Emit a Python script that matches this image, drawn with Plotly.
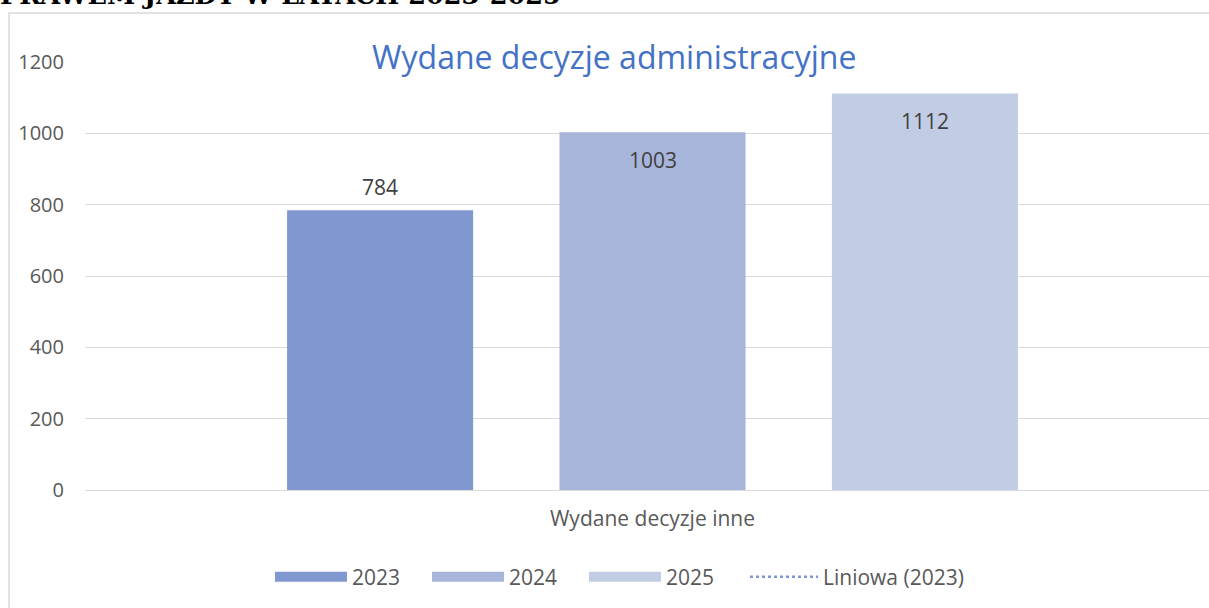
import plotly.graph_objects as go

categories = ["Wydane decyzje inne"]
years = ["2023", "2024", "2025"]
values_2023 = [784]
values_2024 = [1003]
values_2025 = [1112]
series_values = [values_2023, values_2024, values_2025]
bar_colors = ["#8097D0", "#A7B5DA", "#C2CCE4"]
label_inside = [False, True, True]
y_ticks = [0, 200, 400, 600, 800, 1000, 1200]
chart_title = "Wydane decyzje administracyjne"
trend_name = "Liniowa (2023)"
page_heading = "PRAWEM JAZDY W LATACH 2023-2025"

W, H = 1209, 608
ML, MR, MT, MB = 85, 0, 62, 118
BARGAP, BARGROUPGAP = 0.28, 0.317
XRANGE = [-0.5, 0.4903]

fig = go.Figure()
for name, vals, col in zip(years, series_values, bar_colors):
    fig.add_trace(go.Bar(x=categories, y=vals, name=name, marker_color=col,
                         marker_line_width=0, hoverinfo="skip",
                         legendgroup=name, showlegend=False))
    # legend entry drawn as a wide swatch (a single-point line draws nothing on the plot)
    fig.add_trace(go.Scatter(x=categories, y=vals, name=name, mode="lines",
                             line=dict(color=col, width=17), legendgroup=name,
                             hoverinfo="skip", legend="legend"))
fig.add_trace(go.Scatter(x=categories, y=values_2023, name=trend_name, mode="lines",
                         line=dict(color="#7F96D0", width=2.5, dash="dot"), legend="legend2"))

# value labels via annotations, offset to each bar slot
plot_w = W - ML - MR
cat_px = plot_w / (XRANGE[1] - XRANGE[0])
slot_px = cat_px * (1 - BARGAP) / len(years)
for i, (vals, inside) in enumerate(zip(series_values, label_inside)):
    for c, v in zip(categories, vals):
        fig.add_annotation(x=c, y=v, text=str(v), showarrow=False,
                           xshift=(i - 1) * slot_px, yshift=(-28 if inside else 23),
                           yanchor="middle", font=dict(family="Open Sans", size=21, color="#404040"))

plot_h = H - MT - MB
fig.add_annotation(xref="paper", yref="paper", x=(614 - ML) / plot_w, y=(H - MB - 57) / plot_h,
                   text=chart_title, showarrow=False, xanchor="center", yanchor="middle",
                   font=dict(family="Open Sans", size=32, color="#4472C4"))
fig.add_annotation(xref="paper", yref="paper", x=(-2 - ML) / plot_w, y=(H - MB - 12) / plot_h,
                   text="<b>" + page_heading + "</b>", showarrow=False, xanchor="left", yanchor="bottom",
                   font=dict(family="DejaVu Serif", size=25.5, color="#000000"))
fig.add_shape(type="rect", xref="paper", yref="paper", x0=(9 - ML) / plot_w, x1=1.05,
              y0=-0.5, y1=(H - MB - 13) / plot_h, line=dict(color="#D9D9D9", width=1.5),
              fillcolor="rgba(0,0,0,0)", layer="below")

legend_font = dict(size=21, color="#595959")
fig.update_layout(
    width=W, height=H, margin=dict(l=ML, r=MR, t=MT, b=MB),
    paper_bgcolor="white", plot_bgcolor="white",
    barmode="group", bargap=BARGAP, bargroupgap=BARGROUPGAP,
    font=dict(family="Open Sans", color="#595959"),
    showlegend=True,
    legend=dict(orientation="h", xref="container", yref="container", x=270 / W, y=1 - 577 / H,
                xanchor="left", yanchor="middle", font=legend_font,
                traceorder="normal", itemwidth=72, entrywidth=70),
    legend2=dict(orientation="h", xref="container", yref="container", x=745 / W, y=1 - 577 / H,
                 xanchor="left", yanchor="middle", font=legend_font, itemwidth=68),
)
fig.update_xaxes(type="category", range=XRANGE, showgrid=False, showline=False, zeroline=False,
                 tickfont=dict(size=21, color="#595959"), ticklabelstandoff=14)
fig.update_yaxes(range=[0, 1200], tickvals=y_ticks, showgrid=True, gridcolor="#D9D9D9", gridwidth=1.2,
                 zeroline=True, zerolinecolor="#D9D9D9", zerolinewidth=1.2, showline=False,
                 tickfont=dict(size=20, color="#595959"), ticklabelstandoff=20)

fig.write_html("out.html", config={"displayModeBar": False},
               post_script="document.body.style.margin='0';document.body.style.overflow='hidden';")
